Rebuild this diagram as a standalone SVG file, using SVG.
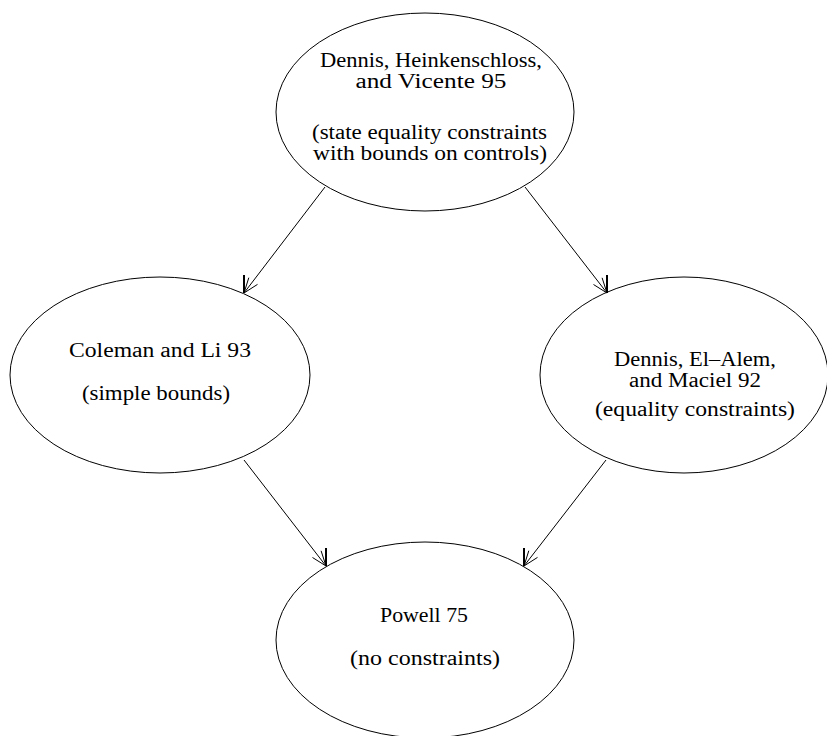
<svg xmlns="http://www.w3.org/2000/svg" width="827" height="736" viewBox="0 0 827 736">
<style>
.n{fill:none;stroke:#000;stroke-width:1}
.t{font-family:"Liberation Serif","DejaVu Serif",serif;font-size:20px;fill:#000;text-anchor:middle}
.c{fill:none;stroke:#000;stroke-width:1}
.k{stroke:#000;stroke-width:2}
</style>
<rect width="827" height="736" fill="#fff"/>
<g id="connectors">
<path class="c" d="M325,187 L244,293 M244,293 L257.5,284.4 M244,293 L248.8,277.7"/>
<line class="k" x1="244" y1="275" x2="244" y2="293"/>
<path class="c" d="M525,187 L607,293 M607,293 L602.1,277.8 M607,293 L593.5,284.5"/>
<line class="k" x1="607" y1="275" x2="607" y2="293"/>
<path class="c" d="M244,460 L326,566 M326,566 L321.1,550.8 M326,566 L312.5,557.5"/>
<line class="k" x1="326" y1="548" x2="326" y2="566"/>
<path class="c" d="M606,460 L524,566 M524,566 L537.5,557.4 M524,566 L528.8,550.7"/>
<line class="k" x1="524" y1="548" x2="524" y2="566"/>
</g>
<g id="dhv95">
<ellipse class="n" cx="425" cy="112" rx="149" ry="99"/>
<text class="t" x="431" y="67" textLength="222" lengthAdjust="spacingAndGlyphs">Dennis, Heinkenschloss,</text>
<text class="t" x="431" y="88" textLength="151" lengthAdjust="spacingAndGlyphs">and Vicente 95</text>
<text class="t" x="429.5" y="139" textLength="235" lengthAdjust="spacingAndGlyphs">(state equality constraints</text>
<text class="t" x="430" y="160" textLength="234" lengthAdjust="spacingAndGlyphs">with bounds on controls)</text>
</g>
<g id="cl93">
<ellipse class="n" cx="160" cy="375" rx="150" ry="98"/>
<text class="t" x="160" y="357" textLength="182" lengthAdjust="spacingAndGlyphs">Coleman and Li 93</text>
<text class="t" x="156" y="400" textLength="148" lengthAdjust="spacingAndGlyphs">(simple bounds)</text>
</g>
<g id="dem92">
<ellipse class="n" cx="684" cy="375" rx="144" ry="98"/>
<text class="t" x="695" y="366" textLength="162" lengthAdjust="spacingAndGlyphs">Dennis, El–Alem,</text>
<text class="t" x="695" y="387" textLength="132" lengthAdjust="spacingAndGlyphs">and Maciel 92</text>
<text class="t" x="695" y="416" textLength="200" lengthAdjust="spacingAndGlyphs">(equality constraints)</text>
</g>
<g id="powell75">
<ellipse class="n" cx="425" cy="640" rx="149" ry="98"/>
<text class="t" x="424" y="622" textLength="88" lengthAdjust="spacingAndGlyphs">Powell 75</text>
<text class="t" x="425" y="665" textLength="150" lengthAdjust="spacingAndGlyphs">(no constraints)</text>
</g>
</svg>
